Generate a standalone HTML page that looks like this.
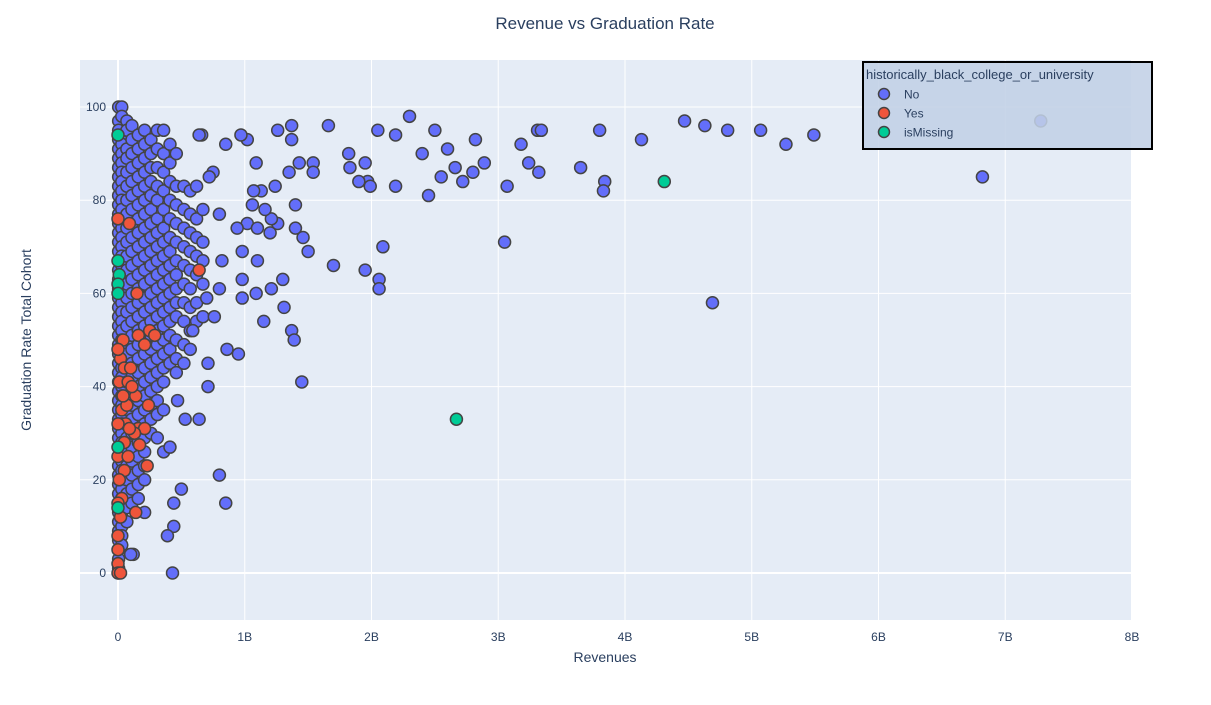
<!DOCTYPE html>
<html><head><meta charset="utf-8"><style>
html,body{margin:0;padding:0;background:#fff;}
svg text{font-family:"Liberation Sans",Arial,sans-serif;}
</style></head><body>
<svg id="chart" width="1211" height="700" xmlns="http://www.w3.org/2000/svg">
<rect x="0" y="0" width="1211" height="700" fill="#fff"/>
<rect x="80" y="60" width="1051" height="560" fill="#e5ecf6"/>
<g id="grid"></g>
<g id="pts"></g>
<g id="axes"></g>
<text x="605" y="29" text-anchor="middle" font-size="17" fill="#2a3f5f">Revenue vs Graduation Rate</text>
<text x="605" y="662" text-anchor="middle" font-size="14" fill="#2a3f5f">Revenues</text>
<text transform="translate(31,340) rotate(-90)" text-anchor="middle" font-size="14" fill="#2a3f5f">Graduation Rate Total Cohort</text>
<g id="legend">
<rect x="863" y="62" width="289" height="87" fill="rgba(194,208,230,0.88)" stroke="#000" stroke-width="2"/>
<text x="866" y="79" font-size="13" fill="#2a3f5f">historically_black_college_or_university</text>
<g><circle cx="884" cy="94" r="5.5" fill="#636efa" stroke="#444" stroke-width="1.5"/><text x="904" y="98.5" font-size="12" fill="#2a3f5f">No</text></g>
<g><circle cx="884" cy="113" r="5.5" fill="#EF553B" stroke="#444" stroke-width="1.5"/><text x="904" y="117.5" font-size="12" fill="#2a3f5f">Yes</text></g>
<g><circle cx="884" cy="132" r="5.5" fill="#00cc96" stroke="#444" stroke-width="1.5"/><text x="904" y="136.5" font-size="12" fill="#2a3f5f">isMissing</text></g>
</g>
</svg>
<script>
const xTicks = [0,1,2,3,4,5,6,7,8];
const xTickLabels = ["0","1B","2B","3B","4B","5B","6B","7B","8B"];
const yTicks = [0,20,40,60,80,100];
// "No" sparse points: [revenue (B), graduation rate]
const noSparse = [[4.47,97],[4.63,96],[4.81,95],[5.07,95],[5.27,92],[5.49,94],[6.82,85],[7.28,97],[4.69,58],[3.05,71],[2.30,98],[2.50,95],[2.05,95],[2.19,94],[1.66,96],[1.37,96],[1.37,93],[1.26,95],[1.43,88],[1.54,88],[1.54,86],[1.82,90],[1.83,87],[1.95,88],[1.97,84],[1.99,83],[1.90,84],[2.19,83],[2.40,90],[2.45,81],[2.55,85],[2.60,91],[2.66,87],[2.72,84],[2.80,86],[2.82,93],[2.89,88],[3.07,83],[3.18,92],[3.24,88],[3.31,95],[3.34,95],[3.32,86],[3.65,87],[3.80,95],[3.84,84],[3.83,82],[4.13,93],[1.70,66],[1.95,65],[2.06,63],[2.06,61],[2.09,70],[1.45,41],[1.37,52],[1.39,50],[1.31,57],[1.30,63],[1.15,54],[1.50,69],[1.46,72],[1.40,74],[1.26,75],[1.21,76],[1.16,78],[1.24,83],[1.13,82],[1.35,86],[1.40,79],[1.06,79],[1.09,88],[1.02,93],[0.97,94],[0.85,92],[0.75,86],[0.72,85],[0.66,94],[0.64,94],[1.07,82],[1.02,75],[1.10,74],[1.20,73],[1.10,67],[1.09,60],[1.21,61],[0.98,63],[0.98,59],[0.95,47],[0.86,48],[0.71,45],[0.71,40],[0.80,21],[0.85,15],[0.50,18],[0.44,15],[0.44,10],[0.43,0],[0.39,8],[0.53,33],[0.64,33],[0.47,37],[0.59,52],[0.76,55],[0.80,61],[0.70,59],[0.82,67],[0.98,69],[0.94,74],[0.80,77],[0.12,4],[0.10,4]];
// "No" dense cluster, by revenue column: revenue (B) and rates
const noClusterRev = [0.005,0.03,0.07,0.11,0.16,0.21,0.26,0.31,0.36,0.41,0.46,0.52,0.57,0.62,0.67];
const noClusterRates = [
 [100,97,95,93,91,89,87,85,83,81,79,77,75,73,71,69,67,65,63,61,59,57,55,53,51,49,47,45,43,41,39,37,35,33,31,29,27,25,23,21,19,17,15,13,11,9,7,5,3,1,0],
 [100,98,94,92,90,88,86,84,82,80,78,76,74,72,70,68,66,64,62,60,58,56,54,52,50,48,46,44,42,40,38,36,34,32,30,28,26,24,22,20,18,16,14,12,10,8,6],
 [97,95,91,89,86,83,80,77,74,71,68,65,62,59,56,53,50,47,44,41,38,35,32,29,26,23,20,17,14,11],
 [96,93,90,87,84,81,78,75,72,69,66,63,60,57,54,51,48,45,42,39,36,33,30,27,24,21,18,15],
 [94,91,88,85,82,79,76,73,70,67,64,61,58,55,52,49,46,43,40,37,34,31,28,25,22,19,16],
 [95,92,89,86,83,80,77,74,71,68,65,62,59,56,53,50,47,44,41,38,35,32,29,26,23,20,13],
 [93,90,87,84,81,78,75,72,69,66,63,60,57,54,51,48,45,42,39,36,33,30],
 [95,91,87,83,80,76,73,70,67,64,61,58,55,52,49,46,43,40,37,34,29],
 [95,90,86,82,78,74,71,68,65,62,59,56,53,50,47,44,41,35,26],
 [92,88,84,80,76,72,69,66,63,60,57,54,51,48,45,27],
 [90,83,79,75,71,67,64,61,58,55,50,46,43],
 [83,78,74,70,66,62,58,54,49,45],
 [82,77,73,69,65,61,57,52,48],
 [83,76,72,68,64,58,54],
 [78,71,67,62,55]
];
const yesPoints = [[0.0,76],[0.09,75],[0.64,65],[0.15,60],[0.25,52],[0.29,51],[0.16,51],[0.21,49],[0.04,50],[0.02,46],[0.05,44],[0.1,44],[0.01,41],[0.08,41],[0.14,38],[0.24,36],[0.03,35],[0.06,32],[0.16,31],[0.21,31],[0.13,30],[0.09,31],[0.0,32],[0.05,28],[0.0,25],[0.23,23],[0.05,22],[0.01,20],[0.03,16],[0.0,15],[0.02,12],[0.0,8],[0.0,5],[0.0,2],[0.0,0],[0.02,0],[0.14,13],[0.08,25],[0.17,27.5],[0.0,48],[0.07,36],[0.11,40],[0.04,38]];
const missingPoints = [[0.0,94],[0.0,67],[0.01,64],[0.0,62],[0.0,60],[0.0,27],[0.0,14],[4.31,84],[2.67,33]];

const X0=118, PXB=126.75, Y0=573, PXU=4.66;
function xs(v){return X0+v*PXB;}
function ys(v){return Y0-v*PXU;}
const NS="http://www.w3.org/2000/svg";
function mk(tag,attrs,parent){const e=document.createElementNS(NS,tag);for(const k in attrs)e.setAttribute(k,attrs[k]);parent.appendChild(e);return e;}
const grid=document.getElementById('grid'), axes=document.getElementById('axes'), pts=document.getElementById('pts');
xTicks.forEach((t,i)=>{
  const l=mk('line',{x1:xs(t),x2:xs(t),y1:60,y2:620,stroke:'#fff','stroke-width':t===0?2:1},grid);
  
  
  const tx=mk('text',{x:xs(t),y:641,'text-anchor':'middle','font-size':12,fill:'#2a3f5f'},axes);
  tx.textContent=xTickLabels[i];
  
  
});
yTicks.forEach(t=>{
  const l=mk('line',{x1:80,x2:1131,y1:ys(t),y2:ys(t),stroke:'#fff','stroke-width':t===0?2:1},grid);
  
  
  const tx=mk('text',{x:106,y:ys(t)+4,'text-anchor':'end','font-size':12,fill:'#2a3f5f'},axes);
  tx.textContent=String(t);
  
  
});
function dot(p,color,name){
  const c=mk('circle',{cx:xs(p[0]),cy:ys(p[1]),r:6,fill:color,stroke:'#444','stroke-width':1.5},pts);
  
  
}
noClusterRev.forEach((r,i)=>{noClusterRates[i].forEach(v=>dot([r,v],'#636efa','point-no'));});
noSparse.forEach(p=>dot(p,'#636efa','point-no'));
yesPoints.forEach(p=>dot(p,'#EF553B','point-yes'));
missingPoints.forEach(p=>dot(p,'#00cc96','point-ismissing'));
</script>
</body></html>
